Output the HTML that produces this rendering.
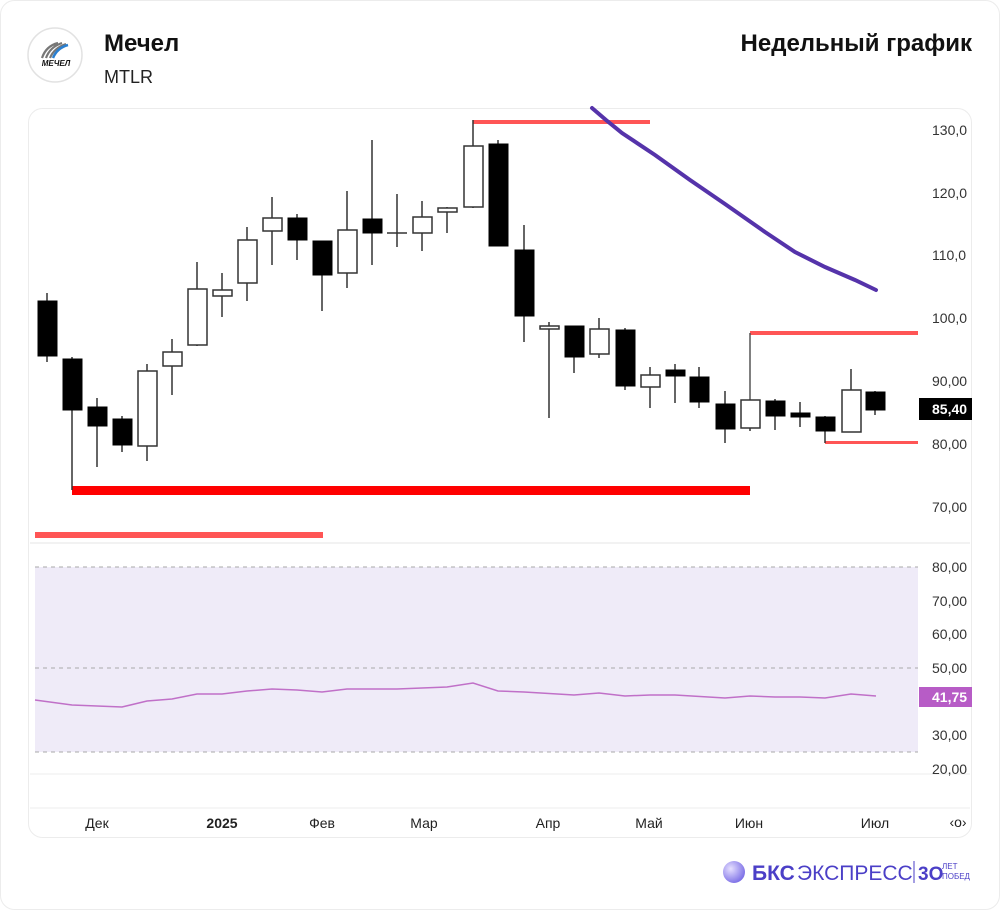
<!DOCTYPE html>
<html><head><meta charset="utf-8"><style>
body{margin:0;background:#fff;}
svg text{font-family:"Liberation Sans",sans-serif;}
</style></head><body>
<svg width="1000" height="910" viewBox="0 0 1000 910" xmlns="http://www.w3.org/2000/svg">
<rect x="0.5" y="0.5" width="999" height="909" rx="14" fill="#fff" stroke="#ececec"/>
<!-- header -->
<circle cx="55" cy="55" r="27" fill="#fff" stroke="#e2e2e2" stroke-width="1.5"/>
<path d="M42 58 Q46 46 58 43 M46 58 Q50 47 62 43 M50 58 Q54 48 66 44" stroke="#777" stroke-width="2.2" fill="none"/>
<path d="M53 58 Q57 48 68 45" stroke="#2a7fd0" stroke-width="2.5" fill="none"/>
<text x="56" y="66" font-size="8" font-weight="bold" font-style="italic" text-anchor="middle" fill="#111">МЕЧЕЛ</text>
<text x="104" y="51" font-size="24" font-weight="bold" fill="#111">Мечел</text>
<text x="104" y="83" font-size="18" fill="#222">MTLR</text>
<text x="972" y="51" font-size="24" font-weight="bold" fill="#111" text-anchor="end">Недельный график</text>
<!-- chart card -->
<rect x="28.5" y="108.5" width="943" height="729" rx="14" fill="#fff" stroke="#ececec"/>
<line x1="30" y1="543" x2="970" y2="543" stroke="#e4e4e4"/>
<line x1="30" y1="774" x2="970" y2="774" stroke="#ececec"/>
<line x1="30" y1="808" x2="970" y2="808" stroke="#ececec"/>
<!-- price axis -->
<g font-size="14" fill="#333">
<text x="932" y="135">130,0</text><text x="932" y="198">120,0</text><text x="932" y="260">110,0</text>
<text x="932" y="323">100,0</text><text x="932" y="386">90,00</text><text x="932" y="449">80,00</text><text x="932" y="512">70,00</text>
</g>
<rect x="919" y="398" width="53" height="22" fill="#000"/>
<text x="932" y="414" font-size="14" font-weight="bold" fill="#fff">85,40</text>
<!-- red levels -->
<rect x="473" y="120" width="177" height="4" fill="#f55"/>
<rect x="750" y="331" width="168" height="4" fill="#f55"/>
<rect x="825" y="441" width="93" height="3" fill="#f55"/>
<line x1="750" y1="333" x2="750" y2="400" stroke="#555" stroke-width="1.5"/>
<rect x="72" y="486" width="678" height="9" fill="#ff0000"/>
<rect x="35" y="532" width="288" height="6" fill="#f55"/>
<!-- MA -->
<polyline points="592,108 606,120 622,133 655,155 690,180 725,204 765,232 795,252 825,267 855,280 876,290" fill="none" stroke="#5533aa" stroke-width="4" stroke-linecap="round"/>
<!-- candles -->
<g stroke="#333" stroke-width="1.5">
<line x1="47" y1="293" x2="47" y2="362"/><line x1="72" y1="357" x2="72" y2="490"/><line x1="97" y1="398" x2="97" y2="467"/><line x1="122" y1="416" x2="122" y2="452"/><line x1="147" y1="364" x2="147" y2="461"/><line x1="172" y1="339" x2="172" y2="395"/><line x1="197" y1="262" x2="197" y2="346"/><line x1="222" y1="273" x2="222" y2="317"/><line x1="247" y1="227" x2="247" y2="301"/><line x1="272" y1="197" x2="272" y2="265"/><line x1="297" y1="214" x2="297" y2="260"/><line x1="322" y1="241" x2="322" y2="311"/><line x1="347" y1="191" x2="347" y2="288"/><line x1="372" y1="140" x2="372" y2="265"/><line x1="397" y1="194" x2="397" y2="247"/><line x1="422" y1="201" x2="422" y2="251"/><line x1="447" y1="207" x2="447" y2="233"/><line x1="473" y1="120" x2="473" y2="208"/><line x1="498" y1="140" x2="498" y2="246"/><line x1="524" y1="225" x2="524" y2="342"/><line x1="549" y1="322" x2="549" y2="418"/><line x1="574" y1="326" x2="574" y2="373"/><line x1="599" y1="318" x2="599" y2="358"/><line x1="625" y1="328" x2="625" y2="390"/><line x1="650" y1="367" x2="650" y2="408"/><line x1="675" y1="364" x2="675" y2="403"/><line x1="699" y1="367" x2="699" y2="408"/><line x1="725" y1="391" x2="725" y2="443"/><line x1="750" y1="400" x2="750" y2="431"/><line x1="775" y1="399" x2="775" y2="430"/><line x1="800" y1="402" x2="800" y2="427"/><line x1="825" y1="416" x2="825" y2="443"/><line x1="851" y1="369" x2="851" y2="432"/><line x1="875" y1="391" x2="875" y2="415"/>
<line x1="387" y1="233" x2="407" y2="233"/>
</g>
<g fill="#000" stroke="#000" stroke-width="1">
<rect x="38" y="301" width="19" height="55"/><rect x="63" y="359" width="19" height="51"/><rect x="88" y="407" width="19" height="19"/><rect x="113" y="419" width="19" height="26"/><rect x="288" y="218" width="19" height="22"/><rect x="313" y="241" width="19" height="34"/><rect x="363" y="219" width="19" height="14"/><rect x="489" y="144" width="19" height="102"/><rect x="515" y="250" width="19" height="66"/><rect x="565" y="326" width="19" height="31"/><rect x="616" y="330" width="19" height="56"/><rect x="666" y="370" width="19" height="6"/><rect x="690" y="377" width="19" height="25"/><rect x="716" y="404" width="19" height="25"/><rect x="766" y="401" width="19" height="15"/><rect x="791" y="413" width="19" height="4"/><rect x="816" y="417" width="19" height="14"/><rect x="866" y="392" width="19" height="18"/>
</g>
<g fill="#fff" stroke="#333" stroke-width="1.5">
<rect x="138" y="371" width="19" height="75"/><rect x="163" y="352" width="19" height="14"/><rect x="188" y="289" width="19" height="56"/><rect x="213" y="290" width="19" height="6"/><rect x="238" y="240" width="19" height="43"/><rect x="263" y="218" width="19" height="13"/><rect x="338" y="230" width="19" height="43"/><rect x="413" y="217" width="19" height="16"/><rect x="438" y="208" width="19" height="4"/><rect x="464" y="146" width="19" height="61"/><rect x="540" y="326" width="19" height="3"/><rect x="590" y="329" width="19" height="25"/><rect x="641" y="375" width="19" height="12"/><rect x="741" y="400" width="19" height="28"/><rect x="842" y="390" width="19" height="42"/>
</g>
<!-- RSI -->
<rect x="35" y="567" width="883" height="185" fill="#efebf8"/>
<g stroke="#aaa" stroke-dasharray="4,4"><line x1="35" y1="567" x2="918" y2="567"/><line x1="35" y1="668" x2="918" y2="668"/><line x1="35" y1="752" x2="918" y2="752"/></g>
<polyline points="35,700 72,705 122,707 147,701 172,699 197,694 222,694 247,691 272,689 297,690 322,692 347,689 397,689 447,687 473,683 498,691 524,692 574,695 599,693 625,696 650,695 675,695 725,698 750,696 775,697 800,697 825,698 851,694 876,696" fill="none" stroke="#c070c8" stroke-width="1.5"/>
<g font-size="14" fill="#333">
<text x="932" y="572">80,00</text><text x="932" y="606">70,00</text><text x="932" y="639">60,00</text><text x="932" y="673">50,00</text><text x="932" y="740">30,00</text><text x="932" y="774">20,00</text>
</g>
<rect x="919" y="687" width="53" height="20" fill="#b75cc6"/>
<text x="932" y="702" font-size="14" font-weight="bold" fill="#fff">41,75</text>
<!-- x axis -->
<g font-size="14" fill="#222" text-anchor="middle">
<text x="97" y="828">Дек</text><text x="222" y="828" font-weight="bold">2025</text><text x="322" y="828">Фев</text><text x="424" y="828">Мар</text><text x="548" y="828">Апр</text><text x="649" y="828">Май</text><text x="749" y="828">Июн</text><text x="875" y="828">Июл</text><text x="958" y="827">‹o›</text>
</g>
<!-- footer -->
<defs><radialGradient id="g" cx="0.35" cy="0.35" r="0.7"><stop offset="0" stop-color="#e6e0ff"/><stop offset="1" stop-color="#7b6ee6"/></radialGradient></defs>
<circle cx="734" cy="872" r="11" fill="url(#g)"/>
<text x="752" y="880" font-size="21" font-weight="bold" fill="#4b3fc7">БКС</text>
<text x="797" y="880" font-size="21" fill="#4b3fc7">ЭКСПРЕСС</text>
<line x1="914" y1="861" x2="914" y2="883" stroke="#4b3fc7"/>
<text x="918" y="880" font-size="19" font-weight="bold" fill="#4b3fc7">3O</text>
<text x="942" y="869" font-size="8" fill="#4b3fc7">ЛЕТ</text>
<text x="942" y="879" font-size="8" fill="#4b3fc7">ПОБЕД</text>
</svg>
</body></html>
